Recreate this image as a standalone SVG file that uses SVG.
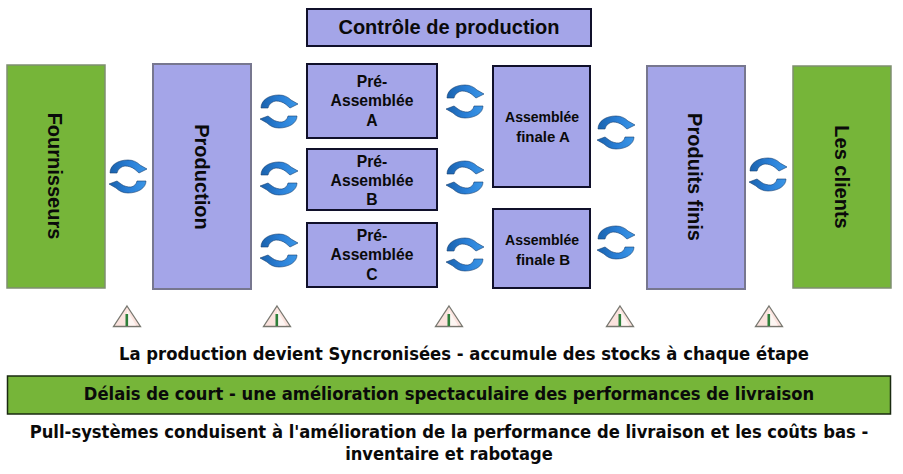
<svg xmlns="http://www.w3.org/2000/svg" xmlns:xlink="http://www.w3.org/1999/xlink" width="903" height="474" viewBox="0 0 903 474">
<style>
text{font-family:"Liberation Sans",Arial,sans-serif;font-weight:700;fill:#0a0a0a;text-anchor:middle}
.t{font-family:"DejaVu Sans",sans-serif;font-weight:700;font-size:17.5px}
.g{fill:#76b539;stroke:#7f8f70;stroke-width:1.5}
.p{fill:#a4a5e8;stroke:#77778f;stroke-width:2}
.b{fill:#a4a5e8;stroke:#10102a;stroke-width:2}
</style>
<defs>
<linearGradient id="cg" x1="0" y1="0" x2="1" y2="0"><stop offset="0" stop-color="#1a62ad"/><stop offset=".55" stop-color="#2a80d8"/><stop offset="1" stop-color="#3b96e6"/></linearGradient>
<g id="cy">
<path d="M1,13 C1,5 9,0 19,0 C24,0 28,2 31,5 L38,9 L30,13 L26,9.500 C23,7 19,6 16,6 C12,6.500 9,9 8,13 Z" fill="url(#cg)" stroke="#173f70" stroke-width=".6"/>
<path d="M37,21 C37,28 29,33 19,33 C14,33 10,31 7,28 L0,24 L8,21 L12,24 C15,26.500 19,27 22,27 C25,26.500 27.500,24 28,21 Z" fill="url(#cg)" stroke="#173f70" stroke-width=".6"/>
</g>
<g id="tr">
<path d="M14,1 L27.500,21.500 L.5,21.500 Z" fill="#fbe3de" stroke="#77776f" stroke-width="1.300"/>
<path d="M14,5 L23,20.500 L14,20.500 Z" fill="#fdf6f3"/>
<rect x="12.500" y="9" width="2.600" height="12" fill="#2f7f3a"/>
</g>
</defs>
<rect width="903" height="474" fill="#fff"/>
<g id="connectors">
<use href="#cy" x="109" y="160"/>
<use href="#cy" x="260" y="95"/>
<use href="#cy" x="260" y="162"/>
<use href="#cy" x="260" y="234"/>
<use href="#cy" x="446" y="85"/>
<use href="#cy" x="446" y="161"/>
<use href="#cy" x="446" y="238"/>
<use href="#cy" x="597" y="116"/>
<use href="#cy" x="597" y="226"/>
<use href="#cy" x="749" y="158"/>
</g>
<g id="fournisseurs"><rect class="g" x="7" y="65" width="98" height="223"/><text transform="translate(48,176) rotate(90)" font-size="20">Fournisseurs</text></g>
<g id="production"><rect class="p" x="153" y="64" width="98" height="225"/><text transform="translate(195,177) rotate(90)" font-size="20">Production</text></g>
<g id="controle"><rect class="b" x="307" y="9" width="284" height="37"/><text x="449" y="34" font-size="20">Contrôle de production</text></g>
<g id="pre-a"><rect class="b" x="307" y="64" width="130" height="74"/><text x="372" y="87" font-size="15.700">Pré-</text><text x="372" y="106" font-size="15.700">Assemblée</text><text x="372" y="126" font-size="15.700">A</text></g>
<g id="pre-b"><rect class="b" x="307" y="149" width="130" height="61"/><text x="372" y="167" font-size="15.700">Pré-</text><text x="372" y="186" font-size="15.700">Assemblée</text><text x="372" y="205" font-size="15.700">B</text></g>
<g id="pre-c"><rect class="b" x="307" y="223" width="130" height="64"/><text x="372" y="241" font-size="15.700">Pré-</text><text x="372" y="260" font-size="15.700">Assemblée</text><text x="372" y="280" font-size="15.700">C</text></g>
<g id="finale-a"><rect class="b" x="493" y="66" width="97" height="121"/><text x="542" y="122" font-size="14">Assemblée</text><text x="543" y="142" font-size="15">finale A</text></g>
<g id="finale-b"><rect class="b" x="493" y="209" width="97" height="79"/><text x="542" y="245" font-size="14">Assemblée</text><text x="543" y="265" font-size="15">finale B</text></g>
<g id="produits"><rect class="p" x="647" y="66" width="98" height="223"/><text transform="translate(688,177) rotate(90)" font-size="20">Produits finis</text></g>
<g id="clients"><rect class="g" x="793" y="66" width="98" height="222"/><text transform="translate(835,177) rotate(90)" font-size="20">Les clients</text></g>
<g id="stocks">
<use href="#tr" x="113" y="305"/>
<use href="#tr" x="263" y="305"/>
<use href="#tr" x="435" y="305"/>
<use href="#tr" x="606" y="305"/>
<use href="#tr" x="755" y="305"/>
</g>
<text class="t" transform="translate(464,360) scale(.88,1)" textLength="784" lengthAdjust="spacingAndGlyphs">La production devient Syncronisées - accumule des stocks à chaque étape</text>
<g id="delais"><rect x="7.500" y="376" width="883" height="38" fill="#76b539" stroke="#1a2a10" stroke-width="1.500"/><text class="t" transform="translate(449,400) scale(.88,1)" textLength="830" lengthAdjust="spacingAndGlyphs">Délais de court - une amélioration spectaculaire des performances de livraison</text></g>
<text class="t" transform="translate(449,438) scale(.88,1)" textLength="953" lengthAdjust="spacingAndGlyphs">Pull-systèmes conduisent à l'amélioration de la performance de livraison et les coûts bas -</text>
<text class="t" transform="translate(449,460) scale(.88,1)" textLength="236" lengthAdjust="spacingAndGlyphs">inventaire et rabotage</text>
</svg>
